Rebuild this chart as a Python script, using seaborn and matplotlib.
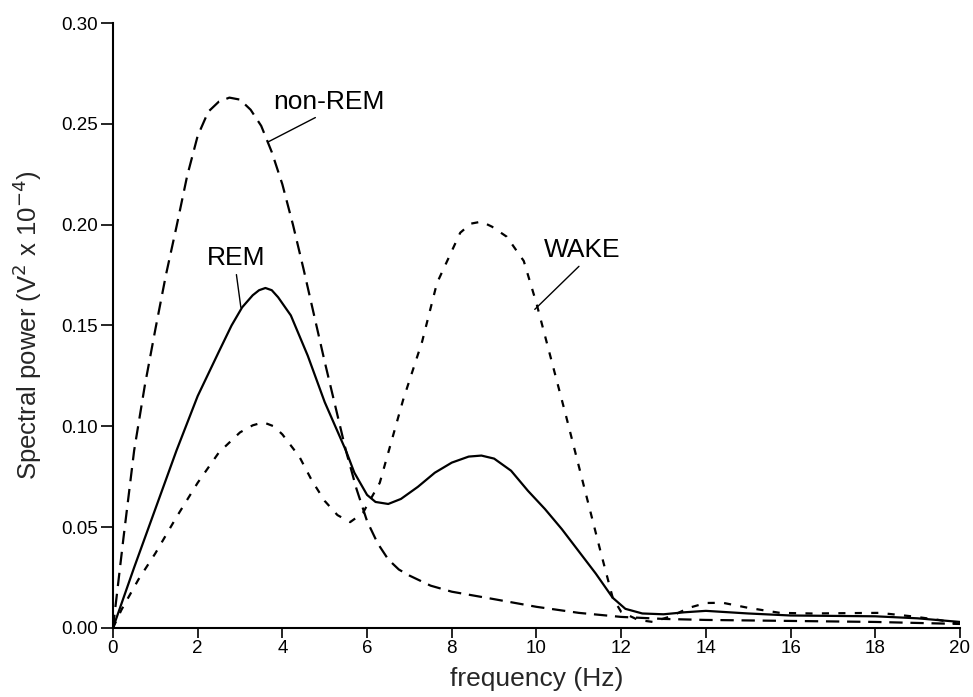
import matplotlib
matplotlib.use("Agg")
import matplotlib.pyplot as plt
import seaborn as sns
import pandas as pd

# ---- data ----
freq_nrem = [0, 0.25, 0.5, 0.75, 1, 1.25, 1.5, 1.75, 2, 2.25, 2.5, 2.75, 3, 3.25, 3.5,
             3.75, 4, 4.25, 4.5, 4.75, 5, 5.25, 5.5, 5.75, 6, 6.25, 6.5, 6.75, 7, 7.5,
             8, 9, 10, 11, 12, 13, 14, 16, 18, 20]
power_nrem = [0, 0.045, 0.088, 0.120, 0.148, 0.175, 0.199, 0.224, 0.244, 0.256, 0.261,
              0.263, 0.262, 0.257, 0.249, 0.236, 0.220, 0.200, 0.178, 0.155, 0.132,
              0.110, 0.088, 0.069, 0.053, 0.042, 0.034, 0.029, 0.026, 0.021, 0.018,
              0.0143, 0.0105, 0.0075, 0.0055, 0.0045, 0.004, 0.0035, 0.003, 0.002]

freq_rem = [0, 0.5, 1, 1.5, 2, 2.5, 2.8, 3.05, 3.3, 3.45, 3.6, 3.75, 3.9, 4.2, 4.6, 5,
            5.5, 5.7, 6, 6.2, 6.5, 6.8, 7.2, 7.6, 8, 8.4, 8.7, 9, 9.4, 9.8, 10.2, 10.6,
            11, 11.4, 11.8, 12.1, 12.5, 13, 13.5, 14, 15, 16, 17, 18, 19, 20]
power_rem = [0, 0.03, 0.059, 0.088, 0.115, 0.137, 0.150, 0.159, 0.165, 0.1675, 0.1686,
             0.1675, 0.164, 0.155, 0.135, 0.112, 0.088, 0.077, 0.066, 0.0625, 0.0615,
             0.064, 0.070, 0.077, 0.082, 0.085, 0.0855, 0.084, 0.078, 0.068, 0.059,
             0.049, 0.038, 0.027, 0.015, 0.0095, 0.0072, 0.0068, 0.0078, 0.0085,
             0.0072, 0.0062, 0.006, 0.0058, 0.0048, 0.003]

freq_wake = [0, 0.2, 0.6, 1, 1.5, 2, 2.5, 3, 3.3, 3.55, 3.8, 4, 4.4, 4.7, 5, 5.3, 5.6,
             5.9, 6.3, 6.85, 7.3, 7.65, 8.2, 8.45, 8.7, 8.95, 9.3, 9.7, 10, 10.25, 10.7,
             11.1, 11.5, 11.8, 12, 12.4, 12.75, 13.2, 13.6, 14, 14.4, 15, 15.75, 16.5,
             17.5, 18.1, 18.9, 19.5, 20]
power_wake = [0, 0.009, 0.024, 0.037, 0.055, 0.072, 0.087, 0.097, 0.1005, 0.102, 0.100,
              0.096, 0.085, 0.073, 0.063, 0.056, 0.0525, 0.057, 0.072, 0.113, 0.142,
              0.171, 0.196, 0.2005, 0.2015, 0.199, 0.194, 0.182, 0.161, 0.141, 0.105,
              0.072, 0.039, 0.015, 0.008, 0.004, 0.003, 0.006, 0.010, 0.0124, 0.0125,
              0.010, 0.0075, 0.0072, 0.0074, 0.0075, 0.0057, 0.004, 0.002]

state_names = ["non-REM", "REM", "WAKE"]
x_ticks = [0, 2, 4, 6, 8, 10, 12, 14, 16, 18, 20]
y_ticks = [0.00, 0.05, 0.10, 0.15, 0.20, 0.25, 0.30]

df = pd.concat([
    pd.DataFrame({"freq": freq_nrem, "power": power_nrem, "state": state_names[0]}),
    pd.DataFrame({"freq": freq_rem, "power": power_rem, "state": state_names[1]}),
    pd.DataFrame({"freq": freq_wake, "power": power_wake, "state": state_names[2]}),
], ignore_index=True)

sns.set_style("white")
plt.rcParams["font.family"] = ["Liberation Sans", "DejaVu Sans"]

fig = plt.figure(figsize=(9.73, 6.97), dpi=100)
ax = fig.add_axes([0.1161, 0.099, 0.8705, 0.868])

sns.lineplot(data=df, x="freq", y="power", hue="state", style="state",
             palette={s: "black" for s in state_names},
             dashes={"non-REM": (6, 3.5), "REM": "", "WAKE": (3.2, 4.2)},
             linewidth=1.6, sort=False, estimator=None, legend=False, ax=ax)

ax.set_xlim(0, 20)
ax.set_ylim(0, 0.30)
ax.set_xticks(x_ticks)
ax.set_yticks(y_ticks)
ax.set_xticklabels([str(t) for t in x_ticks])
ax.set_yticklabels([f"{t:.2f}" for t in y_ticks])
ax.tick_params(axis="both", direction="out", width=1.2, labelsize=13.5,
               bottom=True, left=True, colors="black")
ax.tick_params(axis="x", length=7, pad=2)
ax.tick_params(axis="y", length=9, pad=2)
ax.margins(0)
sns.despine(ax=ax)
for s in ["left", "bottom"]:
    ax.spines[s].set_linewidth(1.5)
    ax.spines[s].set_color("black")

ax.set_xlabel("frequency (Hz)", fontsize=19, labelpad=7)
ax.set_ylabel("Spectral power (V$^2$ x 10$^{-4}$)", fontsize=18.5, labelpad=12)

lbl = dict(fontsize=19, color="black")
ap = dict(arrowstyle="-", lw=1.0, color="black", shrinkA=1, shrinkB=0)
ax.annotate("non-REM", xy=(3.66, 0.241), xytext=(5.09, 0.261), ha="center", va="center",
            arrowprops=dict(ap, relpos=(0.45, 0.0)), **lbl)
ax.annotate("REM", xy=(3.02, 0.159), xytext=(2.90, 0.1835), ha="center", va="center",
            arrowprops=dict(ap, relpos=(0.5, 0.0)), **lbl)
ax.annotate("WAKE", xy=(9.96, 0.158), xytext=(11.07, 0.1874), ha="center", va="center",
            arrowprops=dict(ap, relpos=(0.52, 0.0)), **lbl)

fig.savefig("out.png", dpi=100)
